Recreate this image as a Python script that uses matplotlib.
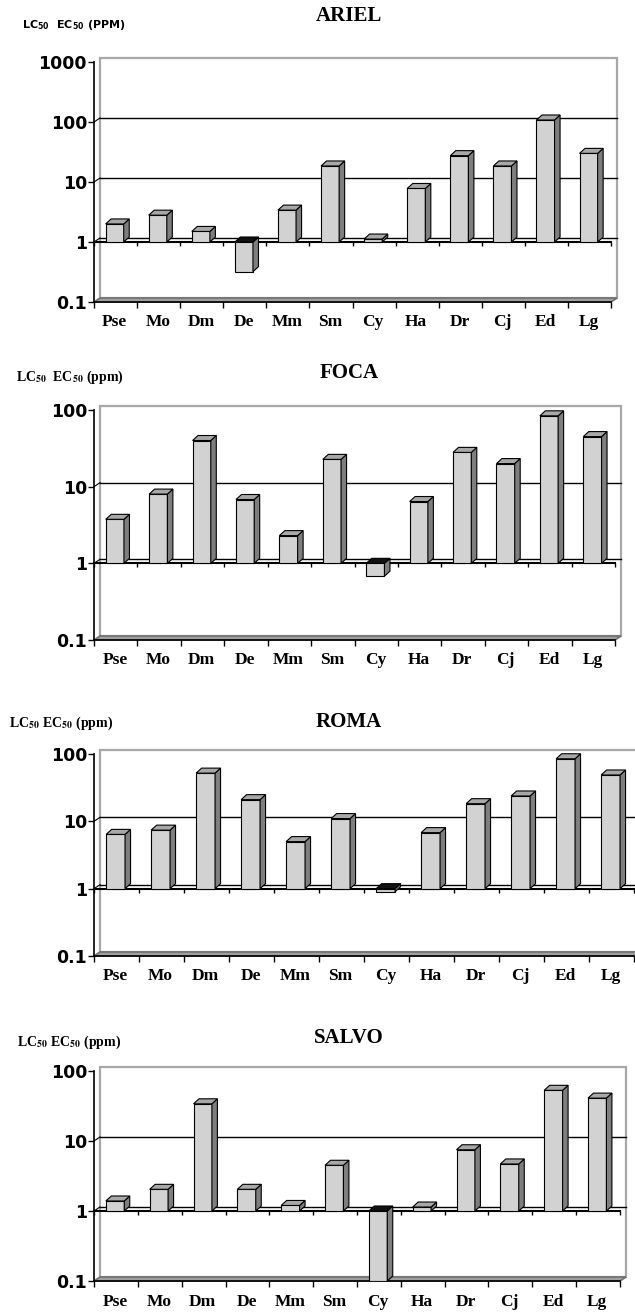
import numpy as np
import matplotlib
matplotlib.use('Agg')
import matplotlib.pyplot as plt
from matplotlib.patches import Polygon
from matplotlib.ticker import FixedLocator, NullLocator

categories = ['Pse', 'Mo', 'Dm', 'De', 'Mm', 'Sm', 'Cy', 'Ha', 'Dr', 'Cj', 'Ed', 'Lg']
ariel = [2.0, 2.8, 1.5, 0.32, 3.4, 18.5, 1.12, 7.8, 27.5, 18.5, 108, 30]
foca = [3.75, 8.0, 40, 6.8, 2.3, 22.7, 0.68, 6.4, 28, 20, 84, 45]
roma = [6.4, 7.4, 52, 21, 5.0, 11, 0.9, 6.8, 18.3, 23.8, 85, 48.8]
salvo = [1.39, 2.04, 34, 2.04, 1.2, 4.5, 0.1, 1.14, 7.5, 4.7, 53, 41]
titles = ['ARIEL', 'FOCA', 'ROMA', 'SALVO']
ylabels = [r'LC$_{\mathbf{50}}$  EC$_{\mathbf{50}}$ (PPM)',
           r'LC$_{\mathbf{50}}$  EC$_{\mathbf{50}}$ (ppm)',
           r'LC$_{\mathbf{50}}$ EC$_{\mathbf{50}}$ (ppm)',
           r'LC$_{\mathbf{50}}$ EC$_{\mathbf{50}}$ (ppm)']
ytops = [1000, 100, 100, 100]

W, H = 635, 1313
fig = plt.figure(figsize=(W / 100, H / 100), dpi=100)

FRONT = '#d2d2d2'
SIDE = '#7e7e7e'
TOP = '#a8a8a8'


def panel(values, title, ylab, ymax, x0, x1, ytop, ybot, title_y, lab_x, lab_y, sans_label):
    ax = fig.add_axes([x0 / W, 1 - ybot / H, (x1 - x0) / W, (ybot - ytop) / H])
    ax.set_yscale('log')
    ymin = 0.1
    ax.set_xlim(0, 12)
    ax.set_ylim(ymin, ymax)
    ax.patch.set_visible(False)

    cat_px = (x1 - x0) / 12
    dec_px = (ybot - ytop) / np.log10(ymax / ymin)
    wdx = 6 / cat_px
    wfy = 10 ** (4 / dec_px)
    bdx = 5.5 / cat_px
    bfy = 10 ** (5 / dec_px)

    # back wall, gridlines, floor
    ax.add_patch(Polygon([(wdx, ymin * wfy), (12 + wdx, ymin * wfy), (12 + wdx, ymax * wfy), (wdx, ymax * wfy)],
                         fc='white', ec='#a8a8a8', lw=1.6, clip_on=False, zorder=0.5))
    decades = [10.0 ** k for k in range(0, int(round(np.log10(ymax))))]
    for g in decades:
        ax.plot([wdx, 12 + wdx], [g * wfy, g * wfy], color='k', lw=1.0, clip_on=False, zorder=0.6)
        ax.plot([0, wdx], [g, g * wfy], color='k', lw=0.8, clip_on=False, zorder=0.6)
    ax.add_patch(Polygon([(0, ymin), (12, ymin), (12 + wdx, ymin * wfy), (wdx, ymin * wfy)],
                         fc='#a0a0a0', ec='#707070', lw=1.2, clip_on=False, zorder=0.7))

    # category axis crossing at 1
    ax.plot([0, 12], [1, 1], color='k', lw=1.5, zorder=1.5, clip_on=False)
    ax.vlines(np.arange(13), 1 / 10 ** (4 / dec_px), 1, color='k', lw=1, zorder=1.5, clip_on=False)

    # bars (front face + side + top)
    xs = np.arange(12) + 0.48
    bw = 0.42
    vals = np.array(values, dtype=float)
    ax.bar(xs, vals - 1, bottom=1, width=bw, color=FRONT, edgecolor='k', linewidth=0.8, zorder=3)
    for xc, v in zip(xs, vals):
        xl, xr = xc - bw / 2, xc + bw / 2
        lo, hi = min(v, 1), max(v, 1)
        ax.add_patch(Polygon([(xr, lo), (xr, hi), (xr + bdx, hi * bfy), (xr + bdx, lo * bfy)],
                             fc=SIDE, ec='k', lw=0.8, zorder=3, clip_on=False))
        tc = TOP if v >= 1 else '#111111'
        ax.add_patch(Polygon([(xl, hi), (xr, hi), (xr + bdx, hi * bfy), (xl + bdx, hi * bfy)],
                             fc=tc, ec='k', lw=0.8, zorder=3, clip_on=False))

    for s in ['top', 'right']:
        ax.spines[s].set_visible(False)
    ax.spines['left'].set_linewidth(1.2)
    ax.spines['bottom'].set_linewidth(1.2)
    ax.spines['left'].set_zorder(4)

    ax.yaxis.set_major_locator(FixedLocator([0.1] + decades + [ymax]))
    ax.yaxis.set_minor_locator(NullLocator())
    ax.set_yticklabels(['0.1'] + ['%g' % d for d in decades] + ['%g' % ymax],
                       fontfamily='DejaVu Sans', fontweight='bold', fontsize=12.5)
    ax.tick_params(axis='y', direction='out', length=4, width=1, pad=1)

    ax.set_xticks(np.arange(13))
    ax.set_xticklabels([])
    ax.set_xticks(xs, minor=True)
    ax.set_xticklabels(categories, minor=True, fontfamily='Liberation Serif',
                       fontweight='bold', fontsize=12.5)
    ax.tick_params(axis='x', which='major', direction='out', length=4, width=1)
    ax.tick_params(axis='x', which='minor', length=0, pad=9)

    fig.text(349 / W, 1 - title_y / H, title, ha='center', va='center',
             fontfamily='Liberation Serif', fontweight='bold', fontsize=15)
    if sans_label:
        fig.text(lab_x / W, 1 - lab_y / H, ylab, ha='left', va='center', fontfamily='DejaVu Sans',
                 fontweight='bold', fontsize=8, math_fontfamily='dejavusans')
    else:
        fig.text(lab_x / W, 1 - lab_y / H, ylab, ha='left', va='center', fontfamily='Liberation Serif',
                 fontweight='bold', fontsize=10, math_fontfamily='stix')
    return ax


panel(ariel, titles[0], ylabels[0], ytops[0], 94, 611, 62, 302, 16, 22, 25, True)
panel(foca, titles[1], ylabels[1], ytops[1], 94, 615, 410, 640, 373, 16, 377, False)
panel(roma, titles[2], ylabels[2], ytops[2], 94, 634, 754, 956, 722, 9, 723, False)
panel(salvo, titles[3], ylabels[3], ytops[3], 94, 620, 1071, 1281, 1038, 17, 1042, False)

fig.savefig('out.png', dpi=100)
